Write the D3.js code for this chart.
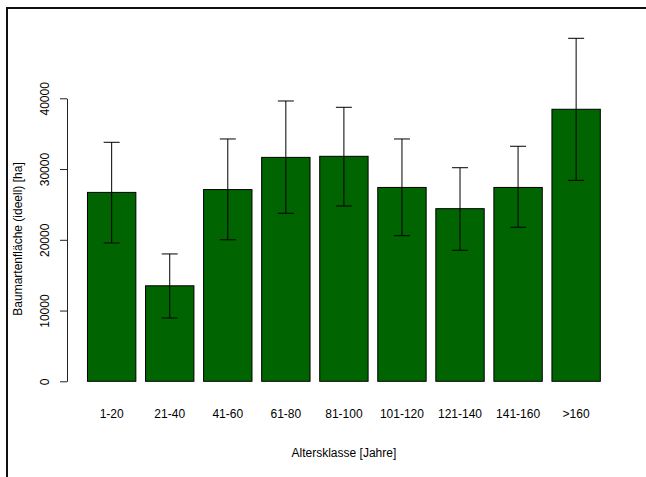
<!DOCTYPE html>
<html>
<head>
<meta charset="utf-8">
<script src="https://cdn.jsdelivr.net/npm/d3@7"></script>
<style>
  html, body { margin: 0; padding: 0; background: #fff; }
  svg { display: block; font-family: "Liberation Sans", Arial, sans-serif; }
</style>
</head>
<body>
<svg id="chart" width="646" height="477"></svg>
<script>
const categories = ["1-20", "21-40", "41-60", "61-80", "81-100", "101-120", "121-140", "141-160", ">160"];
const values = [26700, 13500, 27100, 31650, 31800, 27400, 24400, 27400, 38450];
const errLow = [19550, 8950, 20000, 23750, 24780, 20580, 18520, 21770, 28400];
const errHigh = [33780, 18000, 34250, 39620, 38730, 34250, 30190, 33220, 48480];
const yTicks = [0, 10000, 20000, 30000, 40000];
const xTitle = "Altersklasse [Jahre]";
const yTitle = "Baumartenfläche (ideell) [ha]";

const svg = d3.select("#chart");

// figure border
svg.append("rect")
  .attr("x", 7).attr("y", 8)
  .attr("width", 700).attr("height", 520)
  .attr("fill", "none").attr("stroke", "#111").attr("stroke-width", 2);

const x = d3.scaleBand()
  .domain(categories)
  .range([77.8, 610.0])
  .paddingInner(1 / 6)
  .paddingOuter(1 / 6);

const y = d3.scaleLinear()
  .domain([0, 40000])
  .range([381.3, 98.3]);

const axisX = 67;

// bars
svg.append("g").selectAll("rect")
  .data(categories)
  .join("rect")
  .attr("x", d => x(d))
  .attr("y", (d, i) => y(values[i]))
  .attr("width", x.bandwidth())
  .attr("height", (d, i) => y(0) - y(values[i]))
  .attr("fill", "#006400")
  .attr("stroke", "#000")
  .attr("stroke-width", 1);

// error bars
const eb = svg.append("g").attr("stroke", "#000").attr("stroke-width", 1).attr("fill", "none");
categories.forEach((c, i) => {
  const cx = x(c) + x.bandwidth() / 2;
  eb.append("line").attr("x1", cx).attr("x2", cx).attr("y1", y(errLow[i])).attr("y2", y(errHigh[i]));
  eb.append("line").attr("x1", cx - 8).attr("x2", cx + 8).attr("y1", y(errLow[i])).attr("y2", y(errLow[i]));
  eb.append("line").attr("x1", cx - 8).attr("x2", cx + 8).attr("y1", y(errHigh[i])).attr("y2", y(errHigh[i]));
});

// y axis
const yAxis = svg.append("g")
  .attr("transform", `translate(${axisX},0)`)
  .call(d3.axisLeft(y).tickValues(yTicks).tickFormat(d3.format("d")).tickSize(7).tickSizeOuter(0));
yAxis.select(".domain").attr("stroke", "#222");
yAxis.selectAll(".tick line").attr("stroke", "#222");
yAxis.selectAll(".tick text")
  .attr("transform", "rotate(-90)")
  .attr("text-anchor", "middle")
  .attr("x", 0)
  .attr("y", -18.5)
  .attr("dy", 0)
  .attr("font-size", 12)
  .attr("font-family", "Liberation Sans, Arial, sans-serif")
  .attr("fill", "#000");

// x labels
svg.append("g").selectAll("text")
  .data(categories)
  .join("text")
  .attr("x", d => x(d) + x.bandwidth() / 2)
  .attr("y", 418)
  .attr("text-anchor", "middle")
  .attr("font-size", 12)
  .attr("fill", "#000")
  .text(d => d);

// axis titles
svg.append("text")
  .attr("x", 343.9).attr("y", 457)
  .attr("text-anchor", "middle")
  .attr("font-size", 12)
  .attr("fill", "#000")
  .text(xTitle);

svg.append("text")
  .attr("transform", "translate(21.5,239) rotate(-90)")
  .attr("text-anchor", "middle")
  .attr("font-size", 12)
  .attr("fill", "#000")
  .text(yTitle);
</script>
</body>
</html>
